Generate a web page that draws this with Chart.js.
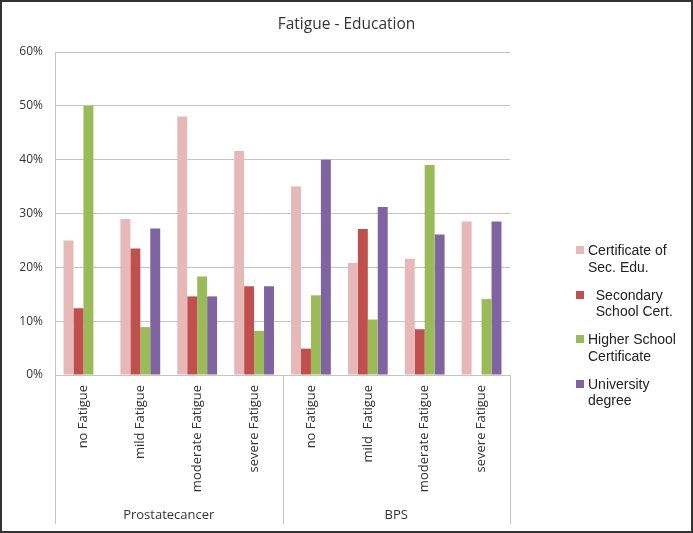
<!DOCTYPE html>
<html>
<head>
<meta charset="utf-8">
<script src="https://cdn.jsdelivr.net/npm/chart.js@4/dist/chart.umd.min.js"></script>
<style>
body { margin: 0; background: #fff; }
#wrap { position: relative; width: 693px; height: 533px; border: 2px solid #333; box-sizing: border-box; background: #fff; }
#title { position: absolute; left: 0; right: 0; top: 11px; text-align: center; font-family: "Open Sans", sans-serif; font-size: 15.5px; line-height: 20px; color: #333; }
#legend { position: absolute; left: 574px; top: 240px; font-family: "Liberation Sans", Arial, sans-serif; font-size: 14px; line-height: 16.5px; color: #222; }
#legend .item { position: relative; padding-left: 12px; margin-bottom: 11.5px; white-space: pre; }
#legend .box { position: absolute; left: 0; top: 4px; width: 8px; height: 8px; }
</style>
</head>
<body>
<div id="wrap">
	<canvas id="myChart"></canvas>
	<div id="title">Fatigue - Education</div>
	<div id="legend"></div>
</div>
<script>
var categories = ['no Fatigue', 'mild Fatigue', 'moderate Fatigue', 'severe Fatigue',
	'no Fatigue', 'mild  Fatigue', 'moderate Fatigue', 'severe Fatigue'];
var groups = ['Prostatecancer', 'BPS'];
var groupSize = 4;

var seriesNames = [
	['Certificate of', 'Sec. Edu.'],
	['  Secondary', '  School Cert.'],
	['Higher School', 'Certificate'],
	['University', 'degree']
];
var secEdu = [25, 29, 48, 41.6, 35, 20.8, 21.6, 28.5];
var secondaryCert = [12.4, 23.5, 14.6, 16.5, 4.9, 27.1, 8.5, 0];
var higherCert = [50, 8.9, 18.3, 8.2, 14.8, 10.3, 39, 14.1];
var university = [0, 27.2, 14.6, 16.5, 40, 31.2, 26.1, 28.5];
var yTicks = [0, 10, 20, 30, 40, 50, 60];

var colors = ['#E6B9B8', '#C0504D', '#9BBB59', '#8064A2'];

// draws the second row of the x axis (group names + separators)
var groupPlugin = {
	id: 'groupPlugin',
	afterDraw: function(chart) {
		var ctx = chart.ctx;
		var xs = chart.scales.x;
		var area = chart.chartArea;
		var lineEnd = chart.height - 7;
		ctx.save();
		ctx.strokeStyle = '#c4c4c4';
		ctx.lineWidth = 1;
		ctx.fillStyle = '#333';
		ctx.font = '13px "Open Sans"';
		ctx.textAlign = 'center';
		ctx.textBaseline = 'middle';
		var start = area.left;
		for (var i = 0; i < groups.length; i++) {
			var last = (i + 1) * groupSize - 1;
			var end;
			if (i == groups.length - 1) {
				end = area.right;
			} else {
				end = (xs.getPixelForValue(last) + xs.getPixelForValue(last + 1)) / 2;
			}
			ctx.beginPath();
			ctx.moveTo(Math.round(start) + 0.5, area.bottom);
			ctx.lineTo(Math.round(start) + 0.5, lineEnd);
			ctx.moveTo(Math.round(end) + 0.5, area.bottom);
			ctx.lineTo(Math.round(end) + 0.5, lineEnd);
			ctx.stroke();
			ctx.fillText(groups[i], (start + end) / 2, chart.height - 16);
			start = end;
		}
		ctx.restore();
	}
};

var series = [secEdu, secondaryCert, higherCert, university];
var datasets = series.map(function(vals, i) {
	return {
		label: seriesNames[i].join(' '),
		data: vals,
		backgroundColor: colors[i],
		borderWidth: 0,
		barPercentage: 1.0,
		categoryPercentage: 0.7
	};
});

var ctx = document.getElementById('myChart').getContext('2d');
var chart = new Chart(ctx, {
	type: 'bar',
	data: {
		labels: categories,
		datasets: datasets
	},
	options: {
		responsive: true,
		maintainAspectRatio: false,
		animation: false,
		layout: { padding: { top: 50, right: 181, bottom: 0, left: 0 } },
		plugins: {
			legend: { display: false },
			tooltip: { enabled: false },
			title: { display: false }
		},
		scales: {
			x: {
				grid: { display: false },
				border: { display: true, color: '#c4c4c4' },
				ticks: {
					color: '#333',
					font: { family: 'Open Sans', size: 13 },
					minRotation: 90,
					maxRotation: 90,
					padding: 2,
					autoSkip: false
				},
				afterFit: function(scale) { scale.height = 156; }
			},
			y: {
				min: 0,
				max: 60,
				afterBuildTicks: function(scale) {
					scale.ticks = yTicks.map(function(v) { return { value: v }; });
				},
				grid: { color: '#c4c4c4', drawTicks: false },
				border: { display: true, color: '#c4c4c4' },
				ticks: {
					color: '#333',
					font: { family: 'Open Sans', size: 12 },
					padding: 12,
					callback: function(v) { return v + '%'; }
				},
				afterFit: function(scale) { scale.width = 53; }
			}
		}
	},
	plugins: [groupPlugin]
});

// html legend, built from the datasets
var legend = document.getElementById('legend');
chart.data.datasets.forEach(function(ds, i) {
	var item = document.createElement('div');
	item.className = 'item';
	var box = document.createElement('span');
	box.className = 'box';
	box.style.background = ds.backgroundColor;
	item.appendChild(box);
	item.appendChild(document.createTextNode(seriesNames[i].join('\n')));
	legend.appendChild(item);
});
</script>
</body>
</html>
